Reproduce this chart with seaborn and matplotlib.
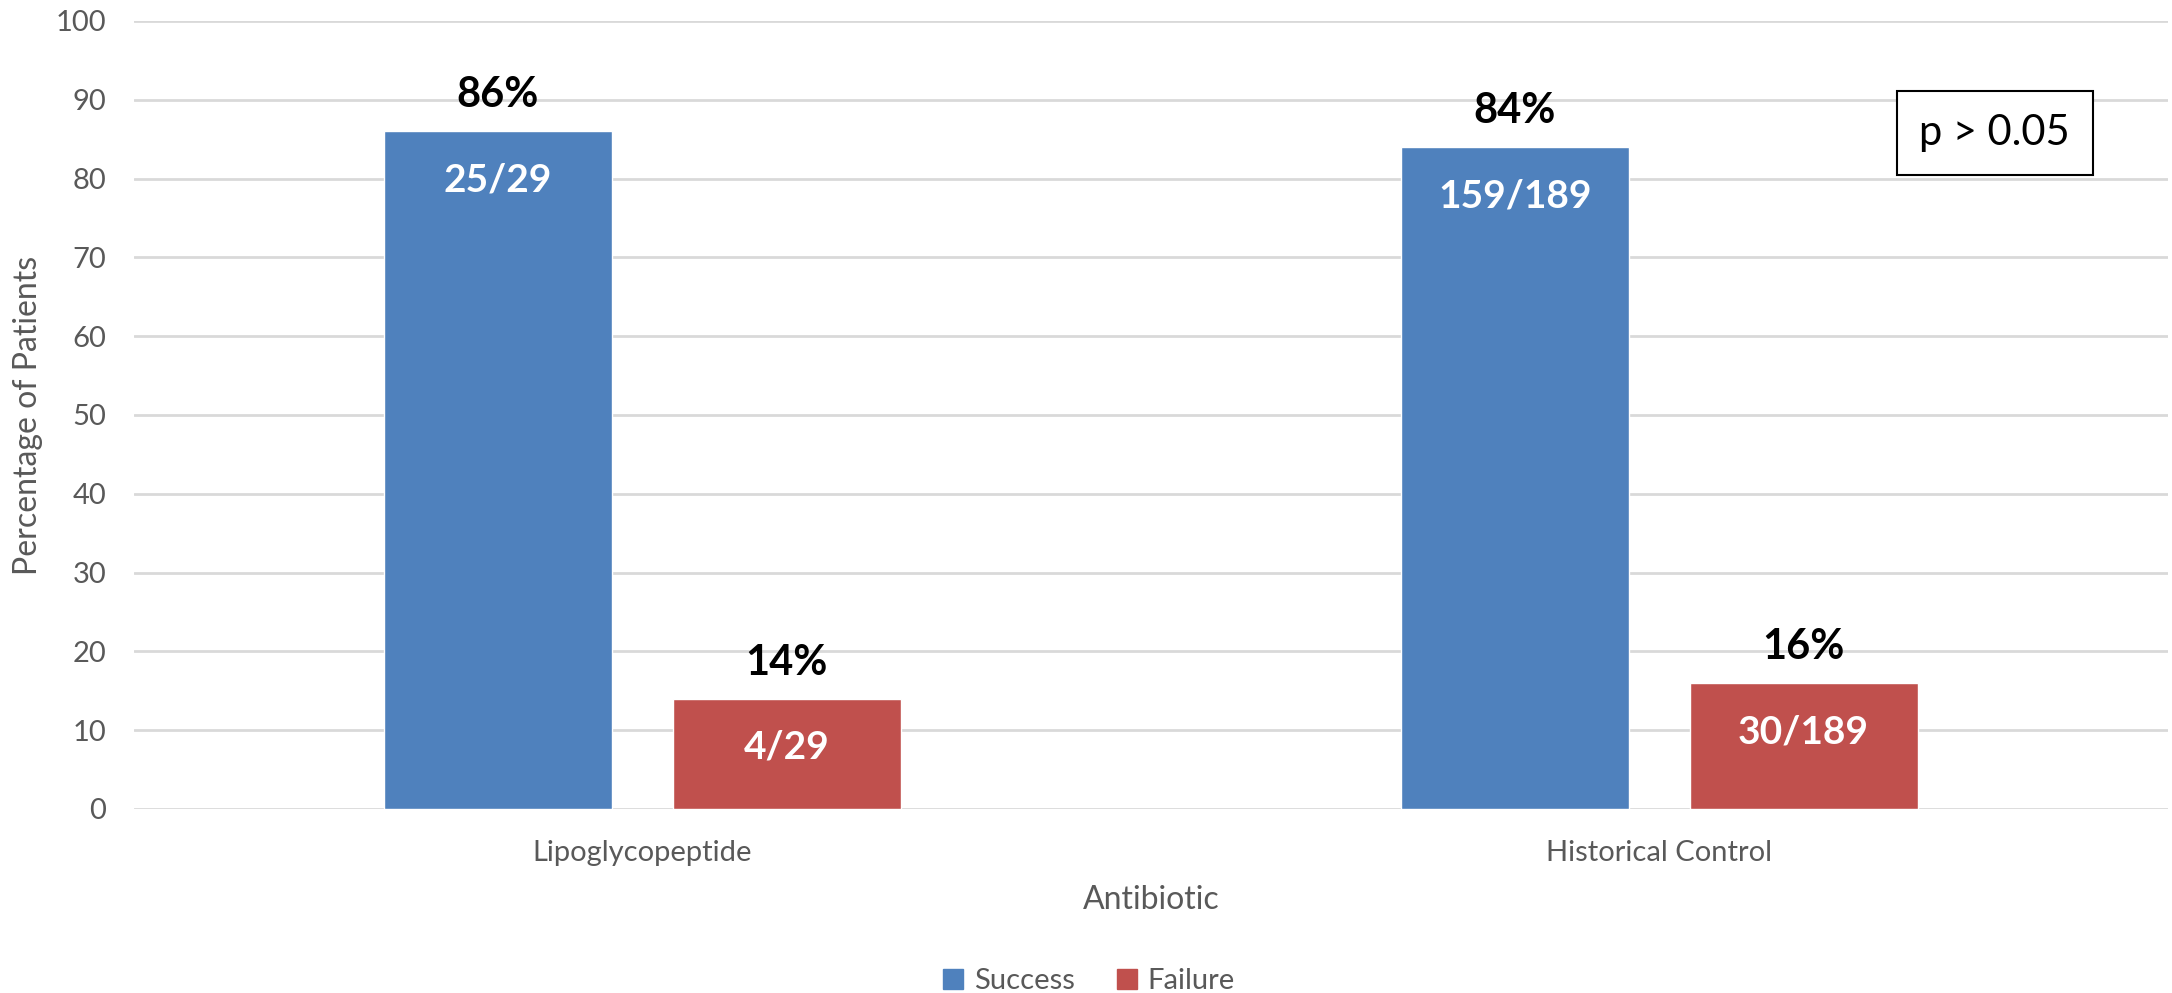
import numpy as np
import pandas as pd
import matplotlib
matplotlib.use("Agg")
import matplotlib.pyplot as plt
from matplotlib.lines import Line2D
import seaborn as sns

# data
groups = ["Lipoglycopeptide", "Historical Control"]
outcomes = ["Success", "Failure"]
success_pct = [86, 84]
failure_pct = [14, 16]
success_frac = ["25/29", "159/189"]
failure_frac = ["4/29", "30/189"]

colors = ["#4F81BD", "#C0504D"]

df = pd.DataFrame({
    "Antibiotic": groups * 2,
    "Outcome": ["Success"] * 2 + ["Failure"] * 2,
    "pct": success_pct + failure_pct,
})

sns.set_style("white")
plt.rcParams['font.family'] = ['Lato', 'DejaVu Sans']

fig = plt.figure(figsize=(21.72, 9.93), dpi=100)
ax = fig.add_axes([0.0617, 0.1853, 0.9363, 0.7936])

sns.barplot(data=df, x="Antibiotic", y="pct", hue="Outcome", order=groups,
            hue_order=outcomes, palette=colors, saturation=1, width=0.568,
            gap=0.21, legend=False, ax=ax)

ax.set_ylim(0, 100)
ax.set_xlim(-0.5, 1.5)
ax.set_yticks(np.arange(0, 101, 10))
ax.yaxis.grid(True, color="#D9D9D9", linewidth=2)
ax.set_axisbelow(True)
for s in ax.spines.values():
    s.set_visible(False)
ax.tick_params(axis="both", length=0, labelsize=21, colors="#595959")
ax.tick_params(axis="y", pad=20)
ax.tick_params(axis="x", pad=22)
ax.set_ylabel("Percentage of Patients", fontsize=23, color="#595959", labelpad=9)
ax.set_xlabel("Antibiotic", fontsize=23, color="#595959", labelpad=14)

fracs = [success_frac, failure_frac]
for cont, labs in zip(ax.containers, fracs):
    for bar, lab in zip(cont, labs):
        cx = bar.get_x() + bar.get_width() / 2
        h = bar.get_height()
        ax.annotate(f"{h:.0f}%", (cx, h), xytext=(0, 26), textcoords="offset points",
                    ha="center", va="center", fontsize=30, fontweight="bold", color="black")
        ax.annotate(lab, (cx, h), xytext=(0, -35), textcoords="offset points",
                    ha="center", va="center", fontsize=28, fontweight="bold", color="white")

# p-value box, x in axes fraction, y in data
ax.text(0.915, 85.8, "p > 0.05", transform=ax.get_yaxis_transform(),
        fontsize=30, ha="center", va="center", color="black",
        bbox=dict(boxstyle="square,pad=0.55", fc="white", ec="black", lw=1.5))

handles = [Line2D([0], [0], marker="s", linestyle="", markersize=14,
                  markerfacecolor=c, markeredgecolor=c) for c in colors]
fig.legend(handles, outcomes, loc="center", bbox_to_anchor=(0.501, 0.012), ncol=2,
           frameon=False, fontsize=21, handlelength=0.8, handletextpad=0.3,
           columnspacing=1.4, labelcolor="#595959")

fig.savefig("out.png", dpi=100)
